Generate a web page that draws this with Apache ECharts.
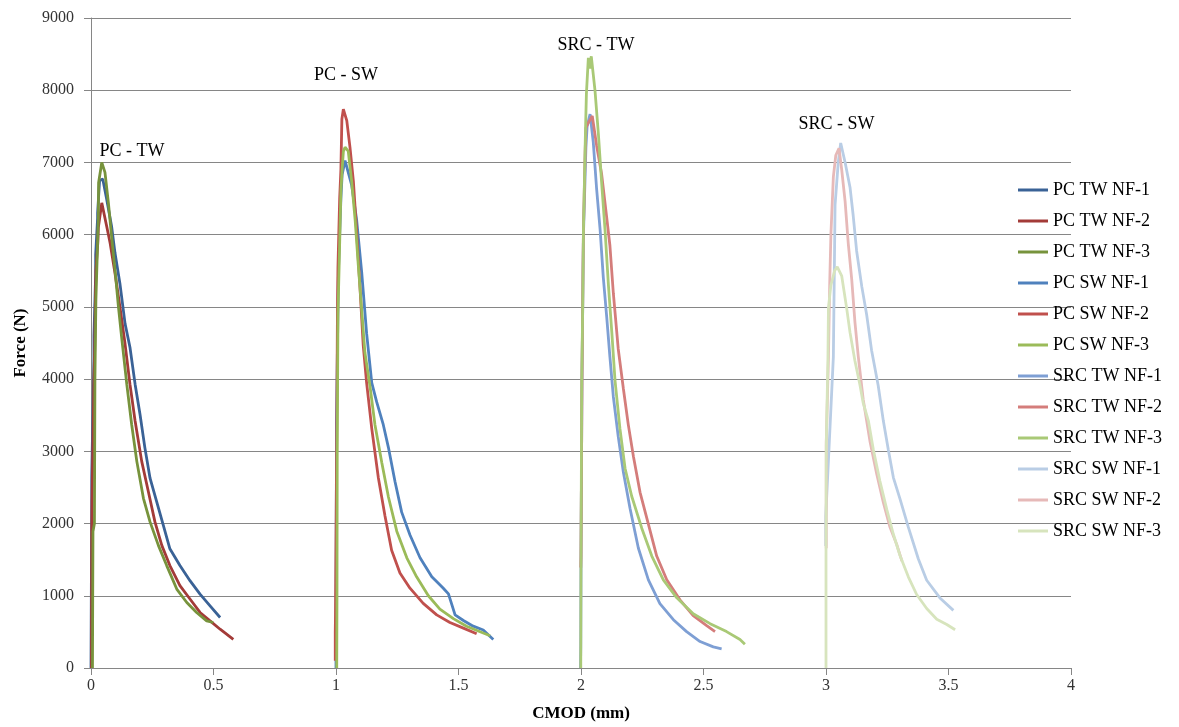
<!DOCTYPE html>
<html>
<head>
<meta charset="utf-8">
<script src="https://cdn.jsdelivr.net/npm/echarts@6/dist/echarts.min.js"></script>
<style>html,body{margin:0;padding:0;background:#fff}#c{width:1179px;height:727px}</style>
</head>
<body>
<div id="c"></div>
<script>
// ---- Data (CMOD mm, Force N) ----
const seriesNames = ['PC TW NF-1','PC TW NF-2','PC TW NF-3','PC SW NF-1','PC SW NF-2','PC SW NF-3',
  'SRC TW NF-1','SRC TW NF-2','SRC TW NF-3','SRC SW NF-1','SRC SW NF-2','SRC SW NF-3'];

const pcTw1 = [[0,0],[0.003,2350],[0.003,2650],[0.012,4300],[0.012,4600],[0.019,5450],[0.019,5720],[0.027,6230],[0.027,6300],[0.035,6750],[0.048,6770],
  [0.064,6490],[0.084,6117],[0.098,5745],[0.118,5325],[0.139,4768],[0.159,4442],[0.180,3930],[0.200,3513],[0.220,3048],[0.241,2628],
  [0.268,2303],[0.295,1977],[0.322,1650],[0.363,1418],[0.404,1209],[0.445,1023],[0.486,861],[0.527,699]];
const pcTw2 = [[0.002,0],[0.003,1880],[0.004,2300],[0.012,4000],[0.015,4400],[0.018,5100],[0.020,5500],[0.028,5900],[0.030,6100],[0.044,6440],
  [0.064,6117],[0.078,5884],[0.098,5466],[0.118,5001],[0.139,4489],[0.159,3930],[0.180,3420],[0.207,2861],[0.234,2443],[0.261,2023],
  [0.289,1698],[0.322,1418],[0.363,1140],[0.404,955],[0.445,769],[0.486,652],[0.527,537],[0.581,396]];
const pcTw3 = [[0.006,0],[0.007,1000],[0.008,1890],[0.014,2000],[0.016,4000],[0.020,5100],[0.030,6230],[0.031,6720],[0.044,7000],
  [0.057,6862],[0.071,6441],[0.084,5976],[0.098,5511],[0.112,5001],[0.125,4582],[0.146,3930],[0.166,3371],[0.187,2861],[0.214,2349],
  [0.241,2023],[0.275,1698],[0.309,1418],[0.350,1093],[0.391,907],[0.431,769],[0.472,652],[0.499,630]];
const pcSw1 = [[1.000,0],[1.000,700],[1.002,3165],[1.002,3400],[1.010,5500],[1.020,6500],[1.025,6830],[1.031,6830],[1.037,7026],
  [1.064,6685],[1.084,6210],[1.105,5474],[1.125,4632],[1.146,3947],[1.166,3684],[1.193,3369],[1.214,3052],[1.241,2579],[1.268,2158],
  [1.302,1841],[1.343,1526],[1.391,1263],[1.438,1105],[1.459,1026],[1.486,736],[1.520,658],[1.560,579],[1.601,527],[1.642,396]];
const pcSw2 = [[0.997,100],[0.997,500],[0.998,750],[1.003,3200],[1.006,5000],[1.008,5550],[1.015,6500],[1.020,6900],[1.024,7600],[1.030,7737],
  [1.044,7580],[1.057,7211],[1.071,6737],[1.084,6053],[1.098,5263],[1.111,4473],[1.125,3947],[1.146,3315],[1.173,2631],[1.200,2104],
  [1.227,1631],[1.261,1315],[1.302,1105],[1.356,894],[1.411,736],[1.465,631],[1.520,552],[1.574,473]];
const pcSw3 = [[1.003,0],[1.004,1000],[1.005,3000],[1.008,4900],[1.013,5600],[1.020,6600],[1.025,6900],[1.030,7150],[1.037,7211],
  [1.050,7158],[1.064,6737],[1.078,6210],[1.091,5579],[1.105,4947],[1.118,4368],[1.139,3894],[1.159,3369],[1.187,2842],[1.214,2368],
  [1.248,1895],[1.289,1526],[1.329,1263],[1.377,1000],[1.424,816],[1.479,684],[1.533,579],[1.588,501],[1.629,447]];
const srcTw1 = [[1.998,0],[1.999,300],[2.000,1500],[2.004,4000],[2.010,6000],[2.020,7200],[2.025,7500],[2.037,7670],
  [2.050,7284],[2.064,6622],[2.078,6071],[2.091,5409],[2.105,4859],[2.118,4307],[2.132,3756],[2.152,3205],[2.173,2709],[2.200,2213],
  [2.234,1662],[2.275,1221],[2.322,891],[2.377,669],[2.431,504],[2.486,366],[2.540,293],[2.574,266]];
const srcTw2 = [[1.999,1390],[2.000,1550],[2.004,3950],[2.008,5500],[2.010,6070],[2.017,7150],[2.020,7480],[2.030,7550],[2.046,7643],
  [2.064,7229],[2.084,6843],[2.105,6237],[2.118,5850],[2.132,5189],[2.152,4417],[2.173,3866],[2.193,3370],[2.214,2929],[2.241,2433],
  [2.275,1992],[2.309,1550],[2.350,1221],[2.404,944],[2.458,724],[2.513,586],[2.547,504]];
const srcTw3 = [[1.999,0],[2.000,1500],[2.003,3975],[2.007,5000],[2.010,6071],[2.018,7395],[2.022,7945],[2.030,8450],[2.036,8300],[2.042,8470],
  [2.057,8000],[2.071,7394],[2.084,6732],[2.098,6071],[2.112,5299],[2.126,4638],[2.139,3976],[2.159,3314],[2.180,2763],[2.207,2378],
  [2.248,1936],[2.289,1550],[2.336,1221],[2.391,972],[2.458,751],[2.527,614],[2.594,504],[2.649,394],[2.669,330]];
const srcSw1 = [[2.999,1690],[2.999,2100],[3.030,4305],[3.037,6413],[3.050,7000],[3.060,7270],
  [3.078,7000],[3.098,6657],[3.111,6265],[3.125,5774],[3.146,5284],[3.166,4892],[3.186,4401],[3.213,3912],[3.234,3422],[3.254,3028],
  [3.275,2636],[3.302,2341],[3.336,1950],[3.377,1509],[3.411,1215],[3.465,970],[3.520,798]];
const srcSw2 = [[3.001,1657],[3.001,3128],[3.010,4305],[3.015,5300],[3.020,6000],[3.030,6800],[3.040,7100],[3.053,7197],
  [3.064,6902],[3.078,6461],[3.091,5873],[3.105,5382],[3.118,4794],[3.132,4305],[3.152,3715],[3.180,3128],[3.207,2686],[3.234,2294],
  [3.261,1951],[3.289,1706],[3.310,1480]];
const srcSw3 = [[3.000,0],[3.000,1500],[3.001,3078],[3.008,4305],[3.010,4990],[3.020,5300],[3.035,5500],[3.046,5554],
  [3.064,5431],[3.084,4990],[3.098,4647],[3.118,4255],[3.139,3912],[3.152,3667],[3.173,3422],[3.193,3028],[3.220,2588],[3.248,2196],
  [3.275,1852],[3.302,1558],[3.336,1263],[3.370,1018],[3.411,823],[3.452,676],[3.493,603],[3.527,530]];

const seriesData = [pcTw1,pcTw2,pcTw3,pcSw1,pcSw2,pcSw3,srcTw1,srcTw2,srcTw3,srcSw1,srcSw2,srcSw3];
const seriesColors = ['#3A6296','#A33B38','#77933C','#4F81BD','#C0504D','#9BBB59',
  '#7E9FD4','#D47D7B','#A9C976','#B9CDE5','#E6B9B8','#D7E4BD'];

const groupLabels = ['PC - TW','PC - SW','SRC - TW','SRC - SW'];
const groupLabelPos = [[0.167,7156],[1.041,8201],[2.061,8628],[3.043,7527]];

const xTicks = [0,0.5,1,1.5,2,2.5,3,3.5,4];
const yTicks = [0,1000,2000,3000,4000,5000,6000,7000,8000,9000];

const serif = '"Liberation Serif","DejaVu Serif",serif';
const chart = echarts.init(document.getElementById('c'), null, {renderer:'canvas'});

const series = seriesData.map((d,i)=>({
  name: seriesNames[i], type:'line', data:d, showSymbol:false, symbol:'none',
  lineStyle:{color:seriesColors[i], width:2.8}, itemStyle:{color:seriesColors[i]},
  animation:false, z:2+i
}));
series.push({
  name:'labels', type:'scatter', symbolSize:1, itemStyle:{color:'#ffffff', opacity:1}, silent:true, animation:false,
  data: groupLabels.map((t,i)=>({name:t, value:groupLabelPos[i]})),
  label:{show:true, position:'inside', formatter:p=>p.name, color:'#000000', opacity:1, fontFamily:serif, fontSize:18}, z:20
});

chart.setOption({
  backgroundColor:'#fff',
  animation:false,
  grid:{left:91, right:108, top:18, bottom:55, containLabel:false},
  legend:{
    data: seriesNames, orient:'vertical', left:1013, top:175,
    icon:'rect', itemWidth:30, itemHeight:3, itemGap:11,
    textStyle:{fontFamily:serif, fontSize:18, color:'#000', lineHeight:20}
  },
  xAxis:{
    type:'value', min:xTicks[0], max:xTicks[xTicks.length-1], interval:0.5,
    name:'CMOD (mm)', nameLocation:'middle', nameGap:37,
    nameTextStyle:{fontFamily:serif, fontSize:17, fontWeight:'bold', color:'#000'},
    axisLine:{show:true, lineStyle:{color:'#868686', width:1}},
    axisTick:{show:true, length:7, lineStyle:{color:'#868686'}},
    axisLabel:{fontFamily:serif, fontSize:16, color:'#333', margin:10, formatter:v=>String(v)},
    splitLine:{show:false}
  },
  yAxis:{
    type:'value', min:yTicks[0], max:yTicks[yTicks.length-1], interval:1000,
    name:'Force (N)', nameLocation:'middle', nameGap:62, nameRotate:90,
    nameTextStyle:{fontFamily:serif, fontSize:17, fontWeight:'bold', color:'#000'},
    axisLine:{show:true, lineStyle:{color:'#868686', width:1}},
    axisTick:{show:true, length:7, lineStyle:{color:'#868686'}},
    axisLabel:{fontFamily:serif, fontSize:16, color:'#333', margin:17, formatter:v=>String(v)},
    splitLine:{show:true, lineStyle:{color:'#868686', width:1}}
  },
  series: series
});
</script>
</body>
</html>
